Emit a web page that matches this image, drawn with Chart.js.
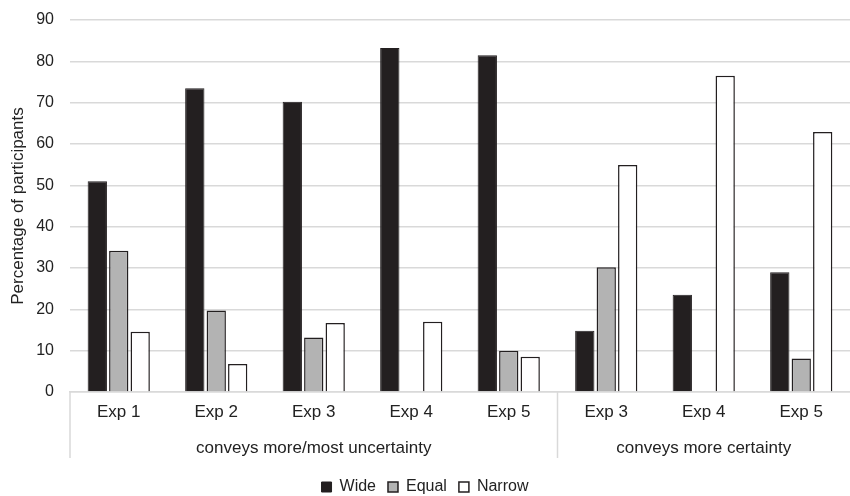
<!DOCTYPE html>
<html>
<head>
<meta charset="utf-8">
<script src="https://cdn.jsdelivr.net/npm/chart.js@4.4.0/dist/chart.umd.min.js"></script>
<style>
  html, body { margin: 0; padding: 0; background: #fff; }
  #wrap { width: 850px; height: 496px; position: relative; }
</style>
</head>
<body>
<div id="wrap"><canvas id="chart"></canvas></div>
<script>
// categories along the x axis
const categories = ['Exp 1', 'Exp 2', 'Exp 3', 'Exp 4', 'Exp 5', 'Exp 3', 'Exp 4', 'Exp 5'];

// second level of x labels (index ranges into categories)
const groupNames = ['conveys more/most uncertainty', 'conveys more certainty'];
const groupStart = [0, 5];
const groupEnd = [4, 7];

// series values (% of participants), null = no bar
const wide = [51.0, 73.5, 70.2, 83.2, 81.5, 14.8, 23.5, 29.0];
const equal = [34.2, 19.7, 13.2, null, 10.0, 30.2, null, 8.1];
const narrow = [14.6, 6.8, 16.7, 17.0, 8.5, 54.9, 76.5, 62.9];

const yMin = 0;
const yMax = 90;
const yStep = 10;

const ink = '#231f20';
const gridColor = '#d9d9d9';
const font = 'Liberation Sans, Arial, sans-serif';

// draws group labels and separators under the category labels
const groupLabels = {
  id: 'groupLabels',
  afterDraw(chart) {
    const ctx = chart.ctx;
    const x = chart.scales.x;
    const base = chart.chartArea.bottom;
    const half = (x.getPixelForValue(1) - x.getPixelForValue(0)) / 2;

    ctx.save();
    ctx.strokeStyle = gridColor;
    ctx.lineWidth = 1.5;
    ctx.beginPath();
    const left = x.getPixelForValue(0) - half;
    ctx.moveTo(left, base);
    ctx.lineTo(left, base + 66);
    for (let i = 0; i < groupEnd.length - 1; i++) {
      const sx = x.getPixelForValue(groupEnd[i]) + half;
      ctx.moveTo(sx, base);
      ctx.lineTo(sx, base + 66);
    }
    ctx.stroke();

    ctx.fillStyle = '#222';
    ctx.font = '17px ' + font;
    ctx.textAlign = 'center';
    ctx.textBaseline = 'middle';
    for (let i = 0; i < groupNames.length; i++) {
      const a = x.getPixelForValue(groupStart[i]) - half;
      const b = x.getPixelForValue(groupEnd[i]) + half;
      ctx.fillText(groupNames[i], (a + b) / 2, base + 56);
    }
    ctx.restore();
  }
};

new Chart(document.getElementById('chart'), {
  type: 'bar',
  data: {
    labels: categories,
    datasets: [
      { label: 'Wide', data: wide, backgroundColor: ink, borderColor: ink, borderWidth: 1 },
      { label: 'Equal', data: equal, backgroundColor: '#b3b3b3', borderColor: ink, borderWidth: 1.5 },
      { label: 'Narrow', data: narrow, backgroundColor: '#ffffff', borderColor: ink, borderWidth: 1.5 }
    ]
  },
  options: {
    responsive: true,
    maintainAspectRatio: false,
    animation: false,
    layout: { padding: { top: 20, right: 0, bottom: -9, left: 0 } },
    datasets: {
      bar: { categoryPercentage: 0.66, barPercentage: 0.9 }
    },
    plugins: {
      tooltip: { enabled: false },
      legend: {
        position: 'bottom',
        labels: {
          boxWidth: 10,
          boxHeight: 10,
          padding: 12,
          color: '#222',
          font: { family: font, size: 16 }
        }
      }
    },
    scales: {
      x: {
        grid: { color: 'rgba(0,0,0,0)', drawTicks: false },
        border: { display: true, color: gridColor, width: 1.5 },
        ticks: { color: '#222', padding: 10, font: { family: font, size: 17 } },
        afterFit(scale) { scale.height = 75; }
      },
      y: {
        min: yMin,
        max: yMax,
        ticks: { stepSize: yStep, color: '#222', padding: 16, font: { family: font, size: 16 } },
        grid: { color: gridColor, lineWidth: 1.5, drawTicks: false },
        border: { display: false },
        title: {
          display: true,
          text: 'Percentage of participants',
          color: '#222',
          padding: { top: 8, bottom: 0 },
          font: { family: font, size: 17 }
        },
        afterFit(scale) {
          scale.width = 70;
          scale.paddingTop = 0;
          scale.paddingBottom = 0;
        }
      }
    }
  },
  plugins: [groupLabels]
});
</script>
</body>
</html>
